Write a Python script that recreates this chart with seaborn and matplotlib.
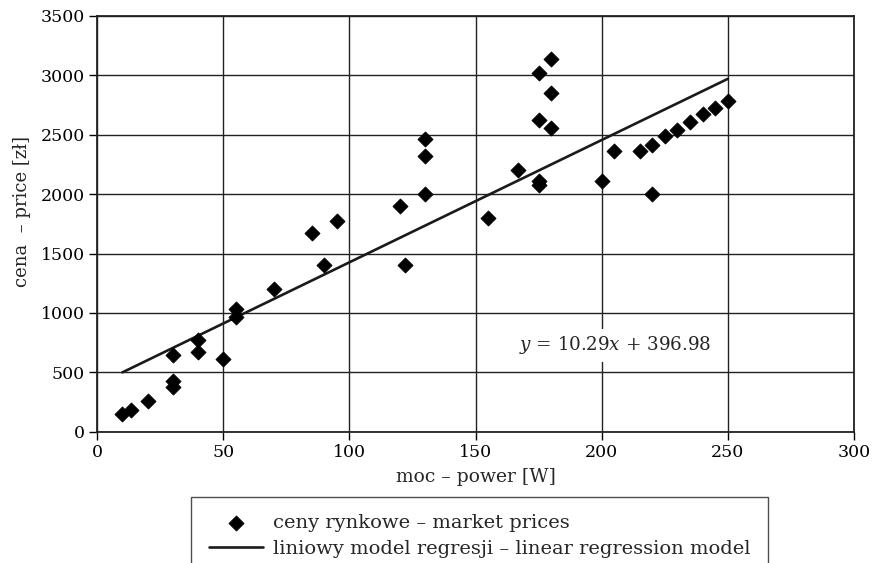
import seaborn as sns
import pandas as pd
import numpy as np
import matplotlib
matplotlib.use('Agg')
import matplotlib.pyplot as plt

# market prices
power = [10, 13.5, 20, 30, 30, 30, 40, 40, 50, 55, 55, 70, 85, 90, 95, 120, 122,
         130, 130, 130, 155, 167, 175, 175, 175, 175, 180, 180, 180, 200, 205,
         215, 220, 220, 225, 230, 235, 240, 245, 250]
price = [150, 180, 260, 430, 380, 650, 670, 770, 610, 970, 1030, 1200, 1670, 1400,
         1775, 1900, 1400, 2460, 2320, 2000, 1800, 2200, 2110, 2080, 2620, 3020,
         3140, 2850, 2560, 2110, 2365, 2365, 2415, 2000, 2485, 2540, 2610, 2670,
         2725, 2780]

# regression model
slope = 10.29
intercept = 396.98
line_x = np.array([10, 250])
line_y = slope * line_x + intercept

x_ticks = [0, 50, 100, 150, 200, 250, 300]
y_ticks = [0, 500, 1000, 1500, 2000, 2500, 3000, 3500]

df = pd.DataFrame({'power': power, 'price': price})
reg = pd.DataFrame({'power': line_x, 'price': line_y})

sns.set_style('ticks')
plt.rcParams['font.family'] = ['DejaVu Serif']
plt.rcParams['mathtext.fontset'] = 'dejavuserif'

fig = plt.figure(figsize=(8.75, 5.63), dpi=100)
ax = fig.add_axes([0.111, 0.233, 0.865, 0.739])

ax.grid(True, color='#222222', linewidth=1.0)
ax.set_axisbelow(True)

sns.scatterplot(data=df, x='power', y='price', marker='D', s=60, color='black',
                edgecolor='black', linewidth=0.5, ax=ax, zorder=3,
                label='ceny rynkowe – market prices')
sns.lineplot(data=reg, x='power', y='price', color='#1a1a1a', linewidth=1.9, ax=ax,
             zorder=2, label='liniowy model regresji – linear regression model')

ax.set_xlim(0, 300)
ax.set_ylim(0, 3500)
ax.set_xticks(x_ticks)
ax.set_yticks(y_ticks)
ax.tick_params(direction='out', length=6, width=1, colors='black', labelsize=12.5, pad=3)
for sp in ax.spines.values():
    sp.set_color('#222222')
    sp.set_linewidth(1.3)

ax.set_xlabel('moc – power [W]', fontsize=13.5, labelpad=5)
ax.set_ylabel('cena  – price [zł]', fontsize=13, labelpad=6)
ax.yaxis.set_label_coords(-0.088, 0.53)

ax.text(205.5, 730, '$y$ = 10.29$x$ + 396.98', ha='center', va='center', fontsize=13.2,
        bbox=dict(facecolor='white', edgecolor='none', pad=4), zorder=4)

handles, labels = ax.get_legend_handles_labels()
ax.get_legend().remove()
leg = fig.legend(handles, labels, loc='upper center', bbox_to_anchor=(0.548, 0.118),
                 frameon=True, fancybox=False, fontsize=14, handlelength=2.8,
                 labelspacing=0.42, borderpad=0.9, handletextpad=0.5, borderaxespad=0)
leg.get_frame().set_edgecolor('#222222')
leg.get_frame().set_linewidth(1.0)

fig.savefig('out.png', dpi=100)
